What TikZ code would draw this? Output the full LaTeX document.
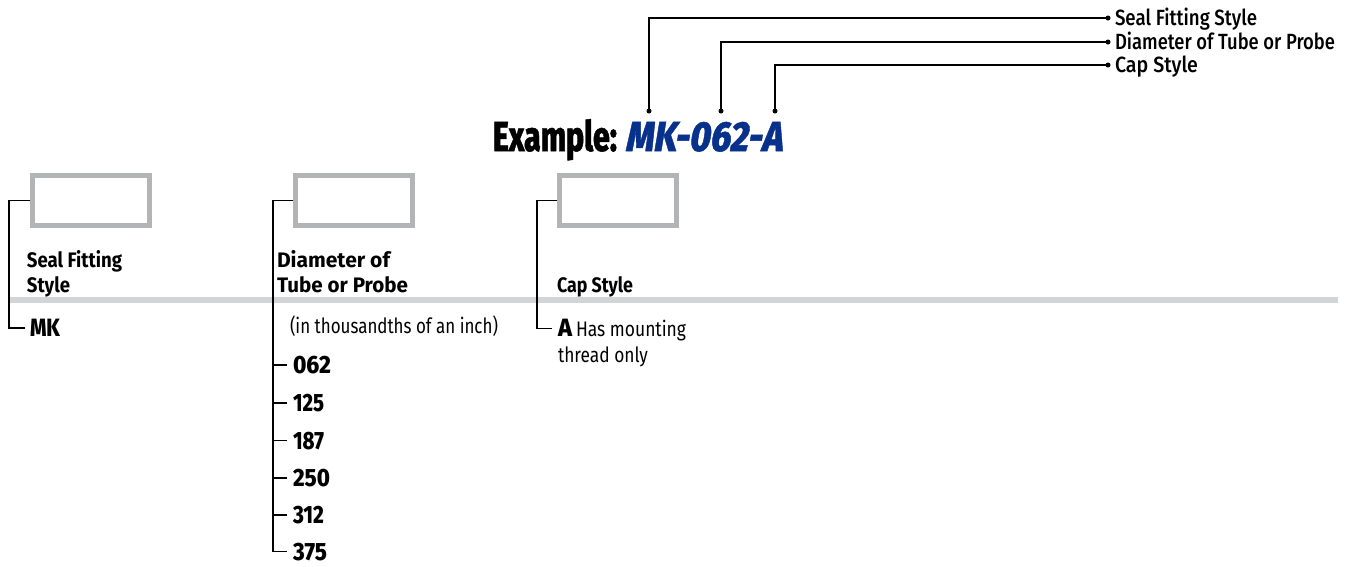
\documentclass[tikz,border=0pt]{standalone}
\usepackage{graphicx}
\usepackage{fontspec}
\setmainfont{Fira Sans}
\newfontfamily\fmed{Fira Sans Medium}
\newfontfamily\fbold{Fira Sans Bold}
\newfontfamily\fxbold{Fira Sans ExtraBold}
\newfontfamily\fheavy{Fira Sans ExtraBold}[FakeBold=1.2]
\newfontfamily\fheavyit{Fira Sans ExtraBold}[FakeSlant=0.2,FakeBold=1.2]
\newcommand\fs[1]{\fontsize{#1}{#1}\selectfont}
\newcommand\fw[2]{\resizebox{#1}{\height}{#2}}
\definecolor{boxgray}{RGB}{178,180,182}
\definecolor{rulegray}{RGB}{211,212,213}
\definecolor{exblue}{RGB}{8,49,140}
\begin{document}
\begin{tikzpicture}[x=1pt,y=-1pt,
  txt/.style={inner sep=0pt,outer sep=0pt,anchor=base west},
  conn/.style={line width=1.4pt,black},
  gbox/.style={draw=boxgray,line width=5pt,minimum width=117pt,minimum height=50pt,inner sep=0pt,fill=white},
  dotnode/.style={circle,fill=black,inner sep=0pt,minimum size=5pt},
  toplab/.style={txt,font=\fmed\fs{22pt}},
  head/.style={txt,font=\fbold\fs{21pt}},
  item/.style={txt,font=\fxbold\fs{25pt}},
  plain/.style={txt,font=\fs{21pt}}]
\useasboundingbox (0,0) rectangle (1345,566);

% gray rule
\draw[rulegray,line width=6pt] (10,300) -- (1338,300);

% title
\node[txt,font=\fheavy\fs{42pt}] (ex) at (493,151) {\fw{124pt}{Example:}};
\node[txt,font=\fheavyit\fs{42pt},text=exblue] (code) at (625,151) {\fw{157pt}{MK-062-A}};

% top legend
\node[dotnode] (d1) at (649,111) {};
\node[dotnode] (d2) at (721,111) {};
\node[dotnode] (d3) at (775,111) {};
\node[dotnode] (e1) at (1108,18) {};
\node[dotnode] (e2) at (1108,42) {};
\node[dotnode] (e3) at (1108,65) {};
\node[toplab] (t1) at (1115,25.5) {\fw{142pt}{Seal Fitting Style}};
\node[toplab] (t2) at (1115,49.5) {\fw{220pt}{Diameter of Tube or Probe}};
\node[toplab] (t3) at (1115,72.5) {\fw{83pt}{Cap Style}};
\draw[conn] (d1.center) |- (e1.center);
\draw[conn] (d2.center) |- (e2.center);
\draw[conn] (d3.center) |- (e3.center);

% boxes
\node[gbox] (boxS) at (91,200.5) {};
\node[gbox] (boxD) at (354,200.5) {};
\node[gbox] (boxC) at (618,200.5) {};

% headings
\node[head] (hS1) at (27,267) {\fw{95pt}{Seal Fitting}};
\node[head] (hS2) at (27,292) {\fw{43pt}{Style}};
\node[head] (hD1) at (277,267) {\fw{113pt}{Diameter of}};
\node[head] (hD2) at (277,292) {\fw{131pt}{Tube or Probe}};
\node[head] (hC1) at (557,292) {\fw{76pt}{Cap Style}};

% seal fitting options
\node[item] (mk) at (30,336.5) {\fw{30pt}{MK}};

% diameter options
\node[plain] (unit) at (290,333) {\fw{208pt}{(in thousandths of an inch)}};
\node[item] (n062) at (293,373.5) {\fw{38pt}{062}};
\node[item] (n125) at (293,411.5) {\fw{31pt}{125}};
\node[item] (n187) at (293,449) {\fw{31pt}{187}};
\node[item] (n250) at (293,486.5) {\fw{37pt}{250}};
\node[item] (n312) at (293,523.5) {\fw{31pt}{312}};
\node[item] (n375) at (293,560) {\fw{34pt}{375}};

% cap options
\node[item] (capA) at (558,336.5) {\fw{14pt}{A}};
\node[plain] (capH) at (576,336.5) {\fw{110pt}{Has mounting}};
\node[plain] (capT) at (558,362) {\fw{90pt}{thread only}};

% connectors
\draw[conn] (boxS.west) -- ++(-21,0) |- ([shift={(-5pt,8.5pt)}]mk.base west);
\draw[conn] (boxD.west) -- ++(-20,0) |- ([shift={(-6pt,8.5pt)}]n375.base west);
\foreach \n in {n062,n125,n187,n250,n312}
  \draw[conn] ([shift={(-6pt,8.5pt)}]\n.base west) -- ++(-14,0);
\draw[conn] (boxC.west) -- ++(-20,0) |- ([shift={(-6pt,8pt)}]capA.base west);
\end{tikzpicture}
\end{document}
